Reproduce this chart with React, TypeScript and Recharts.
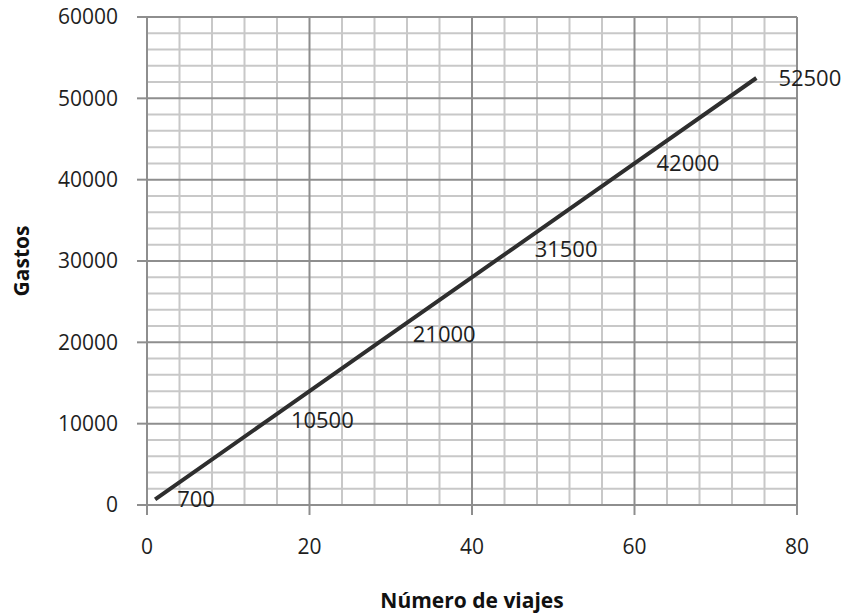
import { LineChart, Line, XAxis, YAxis, ReferenceLine, LabelList, Label } from "recharts";

const viajes = [1, 15, 30, 45, 60, 75];
const gastos = [700, 10500, 21000, 31500, 42000, 52500];

const xTicks = [0, 20, 40, 60, 80];
const yTicks = [0, 10000, 20000, 30000, 40000, 50000, 60000];
const xMinor = [4, 8, 12, 16, 24, 28, 32, 36, 44, 48, 52, 56, 64, 68, 72, 76];
const yMinor = [
  2000, 4000, 6000, 8000, 12000, 14000, 16000, 18000, 22000, 24000, 26000, 28000,
  32000, 34000, 36000, 38000, 42000, 44000, 46000, 48000, 52000, 54000, 56000, 58000,
];

const data = viajes.map((v, i) => ({ viajes: v, gastos: gastos[i] }));

const FONT = "'Open Sans', sans-serif";
const MINOR = "#c8c8c8";
const MAJOR = "#8e8e8e";

const PointLabel = (props: any) => {
  const { x, y, value } = props;
  return (
    <text x={x + 22} y={y + 8} fontSize={22} fontFamily={FONT} fill="#1e1e1e">
      {value}
    </text>
  );
};

export default function App() {
  return (
    <div style={{ position: "absolute", left: 0, top: 0, background: "#fff" }}>
      <LineChart width={851} height={615} data={data} margin={{ top: 17, right: 54, bottom: 0, left: 0 }}>
        <XAxis
          dataKey="viajes"
          type="number"
          domain={[0, 80]}
          ticks={xTicks}
          height={110}
          tickSize={10}
          tickMargin={24}
          axisLine={{ stroke: MAJOR, strokeWidth: 2 }}
          tickLine={{ stroke: MAJOR, strokeWidth: 2 }}
          tick={{ fontSize: 21, fontFamily: FONT, fill: "#1e1e1e" }}
        >
          <Label
            value="Número de viajes"
            position="insideBottom"
            offset={7}
            style={{ fontSize: 21, fontFamily: FONT, fontWeight: 700, fill: "#111" }}
          />
        </XAxis>
        <YAxis
          type="number"
          domain={[0, 60000]}
          ticks={yTicks}
          width={147}
          tickSize={10}
          tickMargin={19}
          axisLine={{ stroke: MAJOR, strokeWidth: 2 }}
          tickLine={{ stroke: MAJOR, strokeWidth: 2 }}
          tick={{ fontSize: 21, fontFamily: FONT, fill: "#1e1e1e" }}
        >
          <Label
            value="Gastos"
            angle={-90}
            position="insideLeft"
            offset={22}
            style={{ fontSize: 21, fontFamily: FONT, fontWeight: 700, fill: "#111", textAnchor: "middle" }}
          />
        </YAxis>
        {xMinor.map((v) => (
          <ReferenceLine key={`xm-${v}`} x={v} stroke={MINOR} strokeWidth={2} />
        ))}
        {yMinor.map((v) => (
          <ReferenceLine key={`ym-${v}`} y={v} stroke={MINOR} strokeWidth={2} />
        ))}
        {xTicks.slice(1).map((v) => (
          <ReferenceLine key={`xM-${v}`} x={v} stroke={MAJOR} strokeWidth={2} />
        ))}
        {yTicks.slice(1).map((v) => (
          <ReferenceLine key={`yM-${v}`} y={v} stroke={MAJOR} strokeWidth={2} />
        ))}
        <Line
          dataKey="gastos"
          stroke="#2e2e2e"
          strokeWidth={4}
          dot={false}
          isAnimationActive={false}
        >
          <LabelList dataKey="gastos" content={<PointLabel />} />
        </Line>
      </LineChart>
    </div>
  );
}
